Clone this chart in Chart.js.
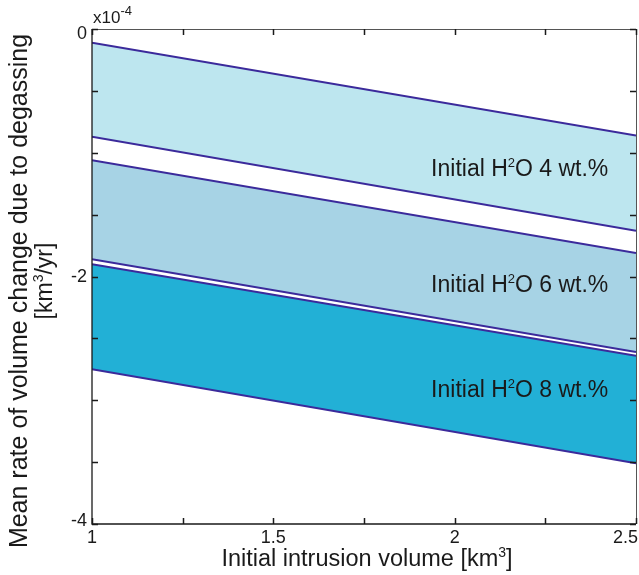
<!DOCTYPE html>
<html>
<head>
<meta charset="utf-8">
<script src="https://cdn.jsdelivr.net/npm/chart.js@4/dist/chart.umd.min.js"></script>
<style>
  html, body { margin: 0; padding: 0; background: #fff; }
  #wrap { width: 639px; height: 575px; position: relative; }
</style>
</head>
<body>
<div id="wrap"><canvas id="c" width="639" height="575"></canvas></div>
<script>
// Initial intrusion volume [km^3] at the two ends of each line
const volumes = [1, 2.5];

// Mean rate of volume change (x10^-4 km^3/yr), upper and lower bounds per water content
const h2o4Upper = [-0.11, -0.86];
const h2o4Lower = [-0.87, -1.63];
const h2o6Upper = [-1.06, -1.81];
const h2o6Lower = [-1.86, -2.61];
const h2o8Upper = [-1.90, -2.64];
const h2o8Lower = [-2.75, -3.51];

// Band labels: water content, and where each label sits (volume, rate)
const bandContent = ['4', '6', '8'];
const labelX = [1.935, 1.935, 1.935];
const labelY = [-1.12, -2.06, -2.91];

// Axis tick values and labelled ticks
const xTicks = [1, 1.25, 1.5, 1.75, 2, 2.25, 2.5];
const xTickLabels = [1, 1.5, 2, 2.5];
const yTicks = [0, -0.5, -1, -1.5, -2, -2.5, -3, -3.5, -4];
const yTickLabels = [0, -2, -4];

const lineColor = '#3b2a9b';
const fills = ['#bde6ef', '#a7d3e5', '#22b0d6'];
const FONT = '"Liberation Sans", Arial, Helvetica, sans-serif';

function pts(ys) { return volumes.map((x, i) => ({ x: x, y: ys[i] })); }

function band(upper, lower, color) {
  return [
    { data: pts(upper), borderColor: lineColor, borderWidth: 2, pointRadius: 0,
      fill: '+1', backgroundColor: color, tension: 0 },
    { data: pts(lower), borderColor: lineColor, borderWidth: 2, pointRadius: 0,
      fill: false, tension: 0 }
  ];
}

const datasets = [].concat(
  band(h2o4Upper, h2o4Lower, fills[0]),
  band(h2o6Upper, h2o6Lower, fills[1]),
  band(h2o8Upper, h2o8Lower, fills[2])
);

// Draw a run of [text, size, rise] pieces starting at x, returns the end x
function drawRun(ctx, pieces, x, y) {
  pieces.forEach(p => {
    ctx.font = p[1] + 'px ' + FONT;
    ctx.fillText(p[0], x, y - p[2]);
    x += ctx.measureText(p[0]).width;
  });
  return x;
}
function runWidth(ctx, pieces) {
  let w = 0;
  pieces.forEach(p => { ctx.font = p[1] + 'px ' + FONT; w += ctx.measureText(p[0]).width; });
  return w;
}

// Axes box, inward ticks, tick labels, titles and band labels
const framePlugin = {
  id: 'frame',
  afterDraw(chart) {
    const ctx = chart.ctx;
    const xs = chart.scales.x, ys = chart.scales.y;
    const a = chart.chartArea;
    ctx.save();

    // box
    ctx.strokeStyle = '#1a1a1a';
    ctx.lineWidth = 1.3;
    ctx.beginPath();
    ctx.moveTo(a.left, a.top); ctx.lineTo(a.left, a.bottom); ctx.lineTo(a.right, a.bottom);
    ctx.stroke();
    ctx.strokeStyle = '#555';
    ctx.lineWidth = 1;
    ctx.beginPath();
    ctx.moveTo(a.left, a.top + 0.5); ctx.lineTo(a.right + 0.5, a.top + 0.5); ctx.lineTo(a.right + 0.5, a.bottom);
    ctx.stroke();

    // inward ticks
    const tl = 6;
    ctx.strokeStyle = '#1a1a1a';
    ctx.lineWidth = 1.5;
    ctx.beginPath();
    yTicks.forEach(v => {
      const py = Math.round(ys.getPixelForValue(v)) + 0.5;
      ctx.moveTo(a.left, py); ctx.lineTo(a.left + tl, py);
      ctx.moveTo(a.right, py); ctx.lineTo(a.right - tl, py);
    });
    xTicks.forEach(v => {
      const px = Math.round(xs.getPixelForValue(v)) + 0.5;
      ctx.moveTo(px, a.bottom); ctx.lineTo(px, a.bottom - tl);
      ctx.moveTo(px, a.top); ctx.lineTo(px, a.top + tl);
    });
    ctx.stroke();

    // tick labels
    ctx.fillStyle = '#1a1a1a';
    ctx.font = '18px ' + FONT;
    ctx.textAlign = 'right';
    ctx.textBaseline = 'middle';
    yTickLabels.forEach((v, i) => {
      let py = ys.getPixelForValue(v) + 1;
      if (i === 0) py += 4;
      if (i === yTickLabels.length - 1) py -= 4;
      ctx.fillText(String(v), a.left - 5, py);
    });
    ctx.textBaseline = 'top';
    xTickLabels.forEach((v, i) => {
      const last = i === xTickLabels.length - 1;
      ctx.textAlign = last ? 'right' : 'center';
      ctx.fillText(String(v), last ? a.right + 2 : xs.getPixelForValue(v), a.bottom + 5);
    });

    // exponent marker
    ctx.textAlign = 'left';
    ctx.textBaseline = 'alphabetic';
    drawRun(ctx, [['x10', 17, 0], ['-4', 13, 8]], a.left + 1, 23);

    // x title
    const xPieces = [['Initial intrusion volume [km', 23.5, 0], ['3', 14, 9], [']', 23.5, 0]];
    drawRun(ctx, xPieces, 367 - runWidth(ctx, xPieces) / 2, 566);

    // y title (two lines, rotated)
    ctx.save();
    ctx.rotate(-Math.PI / 2);
    ctx.font = '25px ' + FONT;
    ctx.textAlign = 'center';
    ctx.fillText('Mean rate of volume change due to degassing', -291, 27);
    ctx.textAlign = 'left';
    const yPieces = [['[km', 23, 0], ['3', 14, 9], ['/yr]', 23, 0]];
    drawRun(ctx, yPieces, -281 - runWidth(ctx, yPieces) / 2, 52);
    ctx.restore();

    // band labels
    ctx.fillStyle = '#1a1a1a';
    ctx.textAlign = 'left';
    ctx.textBaseline = 'alphabetic';
    bandContent.forEach((c, i) => {
      const px = xs.getPixelForValue(labelX[i]);
      const py = ys.getPixelForValue(labelY[i]) + 8;
      drawRun(ctx, [['Initial H', 23, 0], ['2', 13, 9], ['O ' + c + ' wt.%', 23, 0]], px, py);
    });

    ctx.restore();
  }
};

new Chart(document.getElementById('c'), {
  type: 'line',
  data: { datasets: datasets },
  options: {
    responsive: false,
    animation: false,
    layout: { padding: { left: 92, right: 3, top: 29, bottom: 51 } },
    scales: {
      x: { type: 'linear', min: 1, max: 2.5, display: false },
      y: { type: 'linear', min: -4, max: 0, display: false }
    },
    plugins: {
      legend: { display: false },
      tooltip: { enabled: false },
      filler: { drawTime: 'beforeDatasetsDraw' }
    }
  },
  plugins: [framePlugin]
});
</script>
</body>
</html>
